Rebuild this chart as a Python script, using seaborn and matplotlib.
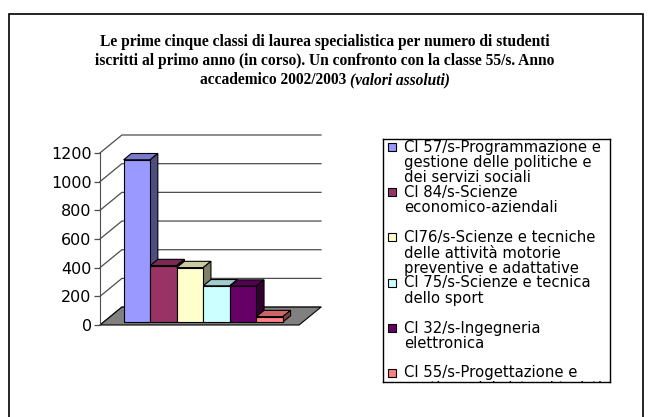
import matplotlib
matplotlib.use("Agg")
import matplotlib.pyplot as plt
from matplotlib.colors import to_rgb
from matplotlib.patches import Polygon, Rectangle
import pandas as pd
import seaborn as sns

# ---------------------------------------------------------------------------
# Data
# ---------------------------------------------------------------------------
TITLE_LINES = [
    "Le prime cinque classi di laurea specialistica per numero di studenti",
    "iscritti al primo anno (in corso). Un confronto con la classe 55/s. Anno",
    "accademico 2002/2003 ",
]
TITLE_ITALIC = "(valori assoluti)"

SERIES = [
    "Cl 57/s-Programmazione e gestione delle politiche e dei servizi sociali",
    "Cl 84/s-Scienze economico-aziendali",
    "Cl76/s-Scienze e tecniche delle attività motorie preventive e adattative",
    "Cl 75/s-Scienze e tecnica dello sport",
    "Cl 32/s-Ingegneria elettronica",
    "Cl 55/s-Progettazione e gestione dei sistemi turistici",
]
LEGEND_LINES = [
    ["Cl 57/s-Programmazione e", "gestione delle politiche e", "dei servizi sociali"],
    ["Cl 84/s-Scienze", "economico-aziendali"],
    ["Cl76/s-Scienze e tecniche", "delle attività motorie", "preventive e adattative"],
    ["Cl 75/s-Scienze e tecnica", "dello sport"],
    ["Cl 32/s-Ingegneria", "elettronica"],
    ["Cl 55/s-Progettazione e", "gestione dei sistemi turistici"],
]
VALUES = [1131, 393, 379, 252, 250, 37]
COLORS = ["#9999FF", "#993366", "#FFFFCC", "#CCFFFF", "#660066", "#FF8080"]
Y_TICKS = [0, 200, 400, 600, 800, 1000, 1200]

# pseudo-3D depth (data units) and bar depth range
DX, DY = 0.11, 125
Z0, Z1 = 0.17, 0.52


def shade(color, k):
    r, g, b = to_rgb(color)
    return (r * k, g * k, b * k)


W, H = 650, 417
fig = plt.figure(figsize=(W / 100, H / 100), dpi=100)

# outer frame
fig.patches.append(Rectangle((9 / W, -0.05), (643 - 9) / W, (H - 14) / H + 0.05,
                             transform=fig.transFigure, fill=False,
                             edgecolor="black", linewidth=1.2))

# ---------------------------------------------------------------------------
# Title
# ---------------------------------------------------------------------------
title_kw = dict(ha="center", va="center", fontsize=11.2, fontweight="bold",
                family="Liberation Serif")
for i, line in enumerate(TITLE_LINES[:2]):
    fig.text(0.5, 1 - (42 + i * 19) / H, line, **title_kw)
t1 = fig.text(0.5, 1 - 80 / H, TITLE_LINES[2], **title_kw)
t2 = fig.text(0.5, 1 - 80 / H, TITLE_ITALIC, style="italic", **title_kw)
fig.canvas.draw()
r = fig.canvas.get_renderer()
w1 = t1.get_window_extent(r).width
w2 = t2.get_window_extent(r).width
start = W / 2 - (w1 + w2) / 2
t1.set_ha("left")
t1.set_x(start / W)
t2.set_ha("left")
t2.set_x((start + w1) / W)

# ---------------------------------------------------------------------------
# Pseudo-3D bar chart
# ---------------------------------------------------------------------------
ax = fig.add_axes([100 / W, 1 - 325 / H, 221 / W, 190 / H])
df = pd.DataFrame({"cat": [""] * len(SERIES), "serie": SERIES, "val": VALUES})
sns.barplot(data=df, x="cat", y="val", hue="serie", hue_order=SERIES,
            palette=COLORS, saturation=1, width=0.8, edgecolor="black",
            linewidth=0.8, legend=False, ax=ax)
bars = list(ax.patches)

# floor
ax.add_patch(Polygon([(-0.5, 0), (0.5, 0), (0.5 + DX, DY), (-0.5 + DX, DY)],
                     closed=True, facecolor="#808080", edgecolor="black",
                     linewidth=0.8, zorder=1, clip_on=False))
# back wall grid
for v in Y_TICKS:
    ax.plot([-0.5, -0.5 + DX, 0.5 + DX], [v, v + DY, v + DY],
            color="#4d4d4d", linewidth=0.9, zorder=0.5, clip_on=False)

dz = Z1 - Z0
for i, p in enumerate(bars):
    x0 = p.get_x() + Z0 * DX
    y0 = Z0 * DY
    w, h = p.get_width(), p.get_height()
    p.set_x(x0)
    p.set_y(y0)
    zo = 3 + i * 0.1
    p.set_zorder(zo + 0.05)
    col = p.get_facecolor()
    top = [(x0, y0 + h), (x0 + w, y0 + h),
           (x0 + w + dz * DX, y0 + h + dz * DY), (x0 + dz * DX, y0 + h + dz * DY)]
    side = [(x0 + w, y0), (x0 + w + dz * DX, y0 + dz * DY),
            (x0 + w + dz * DX, y0 + h + dz * DY), (x0 + w, y0 + h)]
    ax.add_patch(Polygon(top, closed=True, facecolor=shade(col, 0.8),
                         edgecolor="black", linewidth=0.8, zorder=zo))
    ax.add_patch(Polygon(side, closed=True, facecolor=shade(col, 0.5),
                         edgecolor="black", linewidth=0.8, zorder=zo))

ax.set_xlim(-0.5, 0.5 + DX)
ax.set_ylim(0, 1200 + DY)
ax.set_yticks(Y_TICKS)
ax.set_xticks([])
ax.set_xlabel("")
ax.set_ylabel("")
for s in ["top", "right", "bottom"]:
    ax.spines[s].set_visible(False)
ax.spines["left"].set_bounds(0, 1200)
ax.spines["left"].set_color("#4d4d4d")
ax.tick_params(axis="y", length=4, width=0.9, color="#4d4d4d",
               labelsize=11.5, pad=2)
ax.patch.set_visible(False)

# ---------------------------------------------------------------------------
# Legend box (last entry clipped as in the original)
# ---------------------------------------------------------------------------
LX, LY, LW, LH = 383, 139, 227, 243
lax = fig.add_axes([LX / W, 1 - (LY + LH) / H, LW / W, LH / H])
lax.set_xlim(0, LW)
lax.set_ylim(LH, 0)
lax.set_xticks([])
lax.set_yticks([])
for s in lax.spines.values():
    s.set_linewidth(1.0)
for i, lines in enumerate(LEGEND_LINES):
    ey = 9 + i * 45
    lax.add_patch(Rectangle((5, ey - 4.5), 8, 8, facecolor=COLORS[i],
                            edgecolor="black", linewidth=0.8))
    for j, line in enumerate(lines):
        lax.text(21, ey + j * 15, line, ha="left", va="center",
                 fontsize=10.7, clip_on=True)

fig.savefig("out.png", dpi=100)
